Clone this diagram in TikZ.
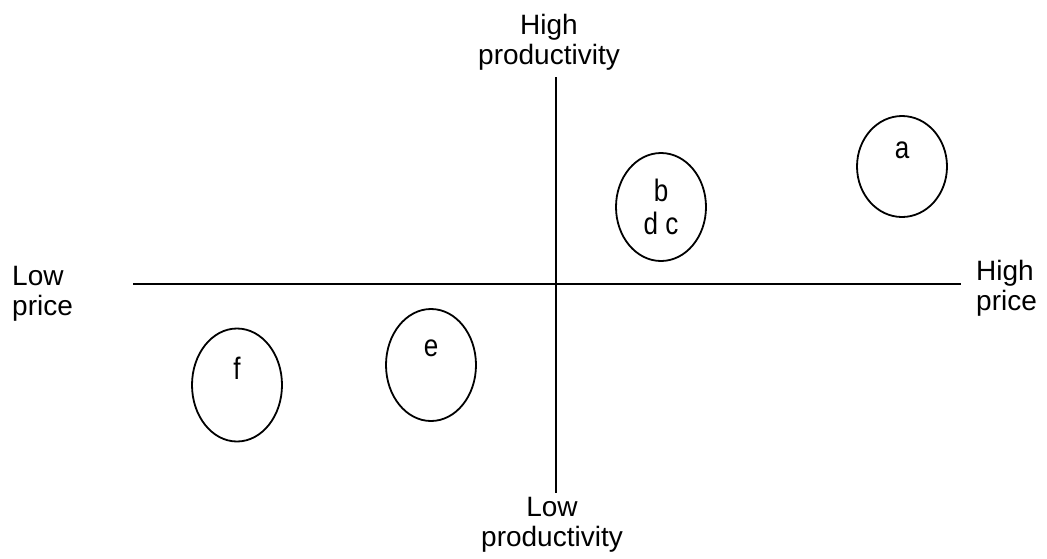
\documentclass[tikz,border=0pt]{standalone}
\usepackage{fontspec}
\setmainfont{Liberation Sans}
\newfontfamily\narrowsf[FakeStretch=0.84]{Liberation Sans}
\usetikzlibrary{shapes.geometric}

\begin{document}
\begin{tikzpicture}[
	x=1pt, y=-1pt,
	axis/.style={line width=1.8pt},
	lbl/.style={inner sep=0pt, font=\fontsize{28}{30}\selectfont},
	blob/.style={draw, ellipse, line width=1.8pt, minimum width=90pt, minimum height=112pt, inner sep=0pt, align=center, font=\narrowsf\fontsize{31}{33}\selectfont}
]
\useasboundingbox (0,0) rectangle (1047,558);

% axes
\coordinate (xl) at (133,284);
\coordinate (xr) at (961,284);
\coordinate (yt) at (556,77);
\coordinate (yb) at (556,493);
\draw[axis] (xl) -- (xr);
\draw[axis] (yt) -- (yb);

% axis labels
\node[lbl, align=center] (hiprod) at (549,42) {High\\productivity};
\node[lbl, align=center] (loprod) at (552,525) {Low\\productivity};
\node[lbl, align=left, anchor=west] (loprice) at (12,294) {Low\\price};
\node[lbl, align=left, anchor=west] (hiprice) at (976,288) {High\\price};

% clusters
\node[blob, minimum height=101pt] (ca) at (902,166.5) {a\\\mbox{}};
\node[blob, minimum height=108pt] (cbdc) at (661,207) {b\\d c};
\node[blob] (ce) at (431,365) {e\\\mbox{}};
\node[blob, minimum height=113pt] (cf) at (237,385) {f\\\mbox{}};
\end{tikzpicture}
\end{document}
